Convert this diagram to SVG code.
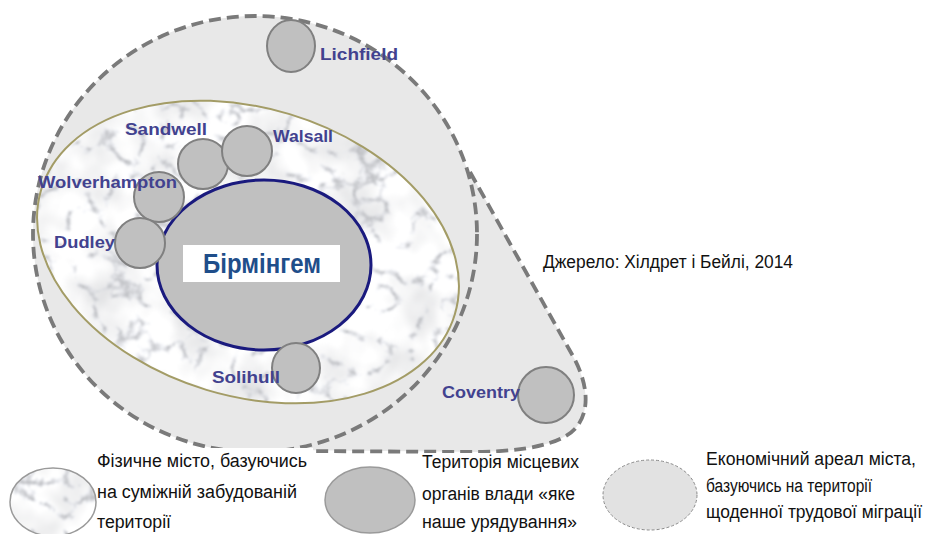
<svg xmlns="http://www.w3.org/2000/svg" width="928" height="534" viewBox="0 0 928 534">
<style>
.dash{fill:none;stroke:#7a7a7a;stroke-width:3.8;stroke-dasharray:12 6}
.la{fill:#c0c0c0;stroke:#808080;stroke-width:2}
.lbl{font-family:"Liberation Sans",Arial,sans-serif;font-weight:bold;font-size:17px;fill:#42428f}
.txt{font-family:"Liberation Sans",Arial,sans-serif;font-size:18px;fill:#111}
</style>
<defs>
<filter id="marble" x="0" y="0" width="1" height="1" color-interpolation-filters="sRGB">
<feTurbulence type="turbulence" baseFrequency="0.03" numOctaves="5" seed="11" result="t"/>
<feColorMatrix in="t" type="matrix" values="1.5 0 0 0 0.66  1.5 0 0 0 0.665  1.5 0 0 0 0.68  0 0 0 0 1" result="c"/>
<feTurbulence type="fractalNoise" baseFrequency="0.02" numOctaves="3" seed="3" result="f"/>
<feColorMatrix in="f" type="matrix" values="0 0 0 0 0.74  0 0 0 0 0.745  0 0 0 0 0.76  1.0 0 0 0 -0.42" result="fa"/>
<feComposite in="fa" in2="c" operator="over" result="m"/>
<feGaussianBlur in="m" stdDeviation="0.8" result="b"/>
<feComposite in="b" in2="SourceGraphic" operator="in"/>
</filter>
</defs>
<rect width="928" height="534" fill="#fff"/>

<g id="economic-area">
<path d="M470,172 L574,358 C592,392 590,425 562,438 C542,448 512,451 482,452 L290,450 Z" fill="#e8e8e8"/>
<ellipse cx="255" cy="234" rx="222" ry="218" fill="#e8e8e8"/>
<ellipse cx="255" cy="234" rx="222" ry="218" class="dash"/>
<path d="M470,172 L574,358 C592,392 590,425 562,438 C542,448 512,451 482,452 L300,451" class="dash"/>
</g>

<g id="physical-city">
<ellipse cx="248" cy="252" rx="216" ry="144" transform="rotate(16.8 248 252)" fill="#eef0f4" filter="url(#marble)"/>
<ellipse cx="248" cy="252" rx="216" ry="144" transform="rotate(16.8 248 252)" fill="none" stroke="#a39c66" stroke-width="2"/>
</g>

<g id="birmingham">
<ellipse cx="264" cy="265" rx="107" ry="85" fill="#c0c0c0" stroke="#1a1a7e" stroke-width="3"/>
<rect x="183" y="245" width="157" height="37" fill="#fff"/>
<text x="262" y="273" text-anchor="middle" textLength="118" lengthAdjust="spacingAndGlyphs" style="font-family:'Liberation Sans',Arial,sans-serif;font-weight:bold;font-size:27px;fill:#1f4e8a">Бірмінгем</text>
</g>

<g id="lichfield"><ellipse class="la" cx="291" cy="46" rx="24" ry="26"/></g>
<g id="sandwell"><circle class="la" cx="203" cy="164" r="25"/></g>
<g id="walsall"><circle class="la" cx="247" cy="151" r="25"/></g>
<g id="wolverhampton"><circle class="la" cx="159" cy="197" r="25"/></g>
<g id="dudley"><circle class="la" cx="140" cy="243" r="25"/></g>
<g id="solihull"><ellipse class="la" cx="296" cy="368" rx="24" ry="25"/></g>
<g id="coventry"><circle class="la" cx="546" cy="395" r="28"/></g>

<g id="labels">
<text class="lbl" x="320" y="60" textLength="78" lengthAdjust="spacingAndGlyphs">Lichfield</text>
<text class="lbl" x="125" y="135" textLength="82" lengthAdjust="spacingAndGlyphs">Sandwell</text>
<text class="lbl" x="273" y="142" textLength="60" lengthAdjust="spacingAndGlyphs">Walsall</text>
<text class="lbl" x="38" y="188" textLength="139" lengthAdjust="spacingAndGlyphs">Wolverhampton</text>
<text class="lbl" x="54" y="248" textLength="61" lengthAdjust="spacingAndGlyphs">Dudley</text>
<text class="lbl" x="212" y="383" textLength="68" lengthAdjust="spacingAndGlyphs">Solihull</text>
<text class="lbl" x="442" y="398" textLength="78" lengthAdjust="spacingAndGlyphs">Coventry</text>
</g>

<g id="source">
<text class="txt" x="543" y="268" textLength="250" lengthAdjust="spacingAndGlyphs">Джерело: Хілдрет і Бейлі, 2014</text>
</g>

<g id="legend-physical">
<rect x="95" y="448" width="218" height="86" fill="#fff"/>
<ellipse cx="53" cy="502" rx="43" ry="34" fill="#eef0f4" filter="url(#marble)"/>
<ellipse cx="53" cy="502" rx="43" ry="34" fill="none" stroke="#9a9a9a" stroke-width="1.5"/>
<text class="txt" x="97" y="467" textLength="210" lengthAdjust="spacingAndGlyphs">Фізичне місто, базуючись</text>
<text class="txt" x="97" y="498" textLength="200" lengthAdjust="spacingAndGlyphs">на суміжній забудованій</text>
<text class="txt" x="97" y="528" textLength="74" lengthAdjust="spacingAndGlyphs">території</text>
</g>

<g id="legend-authority">
<rect x="418" y="453" width="172" height="81" fill="#fff"/>
<ellipse cx="370" cy="500" rx="45" ry="33" fill="#c0c0c0" stroke="#9a9a9a" stroke-width="1.5"/>
<text class="txt" x="422" y="468" textLength="157" lengthAdjust="spacingAndGlyphs">Територія місцевих</text>
<text class="txt" x="422" y="500" textLength="153" lengthAdjust="spacingAndGlyphs">органів влади «яке</text>
<text class="txt" x="422" y="528" textLength="155" lengthAdjust="spacingAndGlyphs">наше урядування»</text>
</g>

<g id="legend-economic">
<ellipse cx="650" cy="495" rx="47" ry="35" fill="#e2e2e2" stroke="#8a8a8a" stroke-width="1" stroke-dasharray="3 2"/>
<text class="txt" x="706" y="465" textLength="210" lengthAdjust="spacingAndGlyphs">Економічний ареал міста,</text>
<text class="txt" x="706" y="492" textLength="166" lengthAdjust="spacingAndGlyphs">базуючись на території</text>
<text class="txt" x="706" y="518" textLength="216" lengthAdjust="spacingAndGlyphs">щоденної трудової міграції</text>
</g>
</svg>
